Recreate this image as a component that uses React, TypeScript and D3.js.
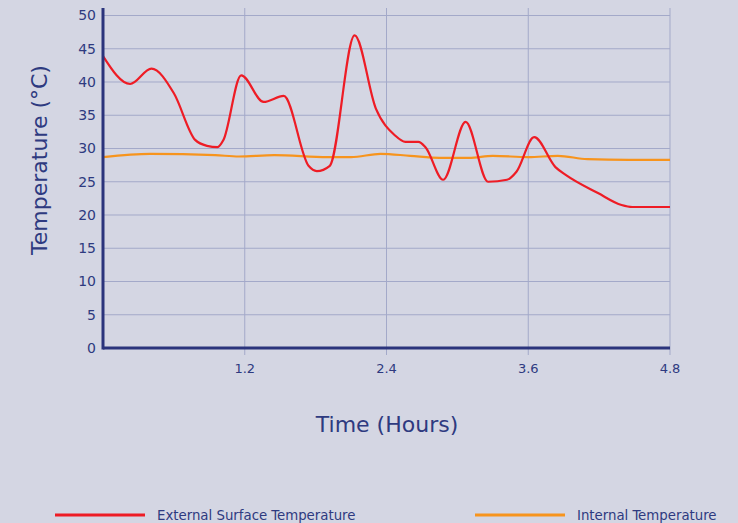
import React from "react";
import * as d3 from "d3";

// time in hours
const externalTime = [0, 0.23, 0.41, 0.6, 0.78, 0.88, 0.97, 1.02, 1.17, 1.36, 1.53, 1.74, 1.81, 1.92, 2.13, 2.31, 2.47, 2.56, 2.67, 2.73, 2.88, 3.07, 3.26, 3.42, 3.5, 3.65, 3.83, 3.92, 4.19, 4.39, 4.48, 4.8];
const externalTemp = [43.9, 39.7, 42, 38.3, 31.3, 30.4, 30.2, 31.3, 41, 37, 37.9, 27.4, 26.6, 27.4, 47, 36, 32, 31, 31, 30.2, 25.3, 34, 25, 25.3, 26.5, 31.7, 27.2, 26, 23.3, 21.5, 21.2, 21.2];

const internalTime = [0, 0.4, 0.95, 1.15, 1.45, 1.9, 2.1, 2.35, 2.6, 2.85, 3.1, 3.3, 3.6, 3.85, 4.1, 4.45, 4.8];
const internalTemp = [28.7, 29.2, 29.0, 28.8, 29.0, 28.7, 28.7, 29.2, 28.9, 28.6, 28.6, 28.9, 28.7, 28.9, 28.4, 28.3, 28.3];

const xTicks = [1.2, 2.4, 3.6, 4.8];
const yTicks = [0, 5, 10, 15, 20, 25, 30, 35, 40, 45, 50];

const seriesNames = ["External Surface Temperature", "Internal Temperature"];
const seriesColors = ["#ee1c25", "#f7941d"];

const width = 738;
const height = 523;
const left = 103;
const right = 670;
const top = 8;
const bottom = 348;

export default function App() {
  const x = d3.scaleLinear([0, 4.8], [left, right]);
  const y = d3.scaleLinear([0, 50], [bottom, 15.5]);

  const line = d3
    .line<[number, number]>()
    .x((d) => x(d[0]))
    .y((d) => y(d[1]))
    .curve(d3.curveMonotoneX);

  const ext = externalTime.map((t, i) => [t, externalTemp[i]] as [number, number]);
  const int = internalTime.map((t, i) => [t, internalTemp[i]] as [number, number]);

  const textColor = "#2e3a80";
  const gridColor = "#a3a9c9";
  const font = "Verdana, 'DejaVu Sans', sans-serif";

  return (
    <svg width={width} height={height} style={{ position: "absolute", left: 0, top: 0 }}>
      <rect width={width} height={height} fill="#d4d6e3" />

      {/* horizontal grid */}
      {yTicks.filter((v) => v > 0).map((v) => (
        <line key={v} x1={left} x2={right} y1={y(v)} y2={y(v)} stroke={gridColor} strokeWidth={1} />
      ))}
      {/* vertical grid */}
      {xTicks.map((v) => (
        <line key={v} x1={x(v)} x2={x(v)} y1={top} y2={bottom + 7} stroke={gridColor} strokeWidth={1} />
      ))}

      {/* y tick labels */}
      {yTicks.map((v) => (
        <text key={v} x={96} y={y(v)} dy="0.35em" textAnchor="end" fontSize={14} fill={textColor} fontFamily={font}>
          {v}
        </text>
      ))}
      {/* x tick labels */}
      {xTicks.map((v) => (
        <text key={v} x={x(v)} y={373} textAnchor="middle" fontSize={13} fill={textColor} fontFamily={font}>
          {v.toFixed(1)}
        </text>
      ))}

      <path d={line(int)!} fill="none" stroke={seriesColors[1]} strokeWidth={2.2} />
      <path d={line(ext)!} fill="none" stroke={seriesColors[0]} strokeWidth={2.2} />

      {/* axes */}
      <line x1={left} x2={left} y1={top} y2={bottom + 1.5} stroke="#2b347c" strokeWidth={3} />
      <line x1={left} x2={right} y1={bottom} y2={bottom} stroke="#2b347c" strokeWidth={3} />

      {/* axis titles */}
      <text
        transform={`translate(47,${(top + bottom) / 2 - 18}) rotate(-90)`}
        textAnchor="middle"
        fontSize={22}
        fill={textColor}
        fontFamily={font}
      >
        Temperature (°C)
      </text>
      <text x={387} y={432} textAnchor="middle" fontSize={22} fill={textColor} fontFamily={font}>
        Time (Hours)
      </text>

      {/* legend */}
      {seriesNames.map((name, i) => {
        const lx = i === 0 ? 55 : 475;
        return (
          <g key={name}>
            <line x1={lx} x2={lx + 90} y1={515} y2={515} stroke={seriesColors[i]} strokeWidth={3} />
            <text x={lx + 102} y={520} fontSize={14.8} fill={textColor} fontFamily="'DejaVu Sans Condensed', 'Liberation Sans Narrow', sans-serif">
              {name}
            </text>
          </g>
        );
      })}
    </svg>
  );
}
